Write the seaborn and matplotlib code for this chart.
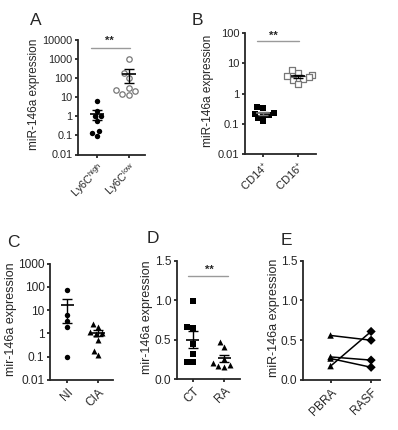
import numpy as np
import pandas as pd
import seaborn as sns
import matplotlib.pyplot as plt
from matplotlib.ticker import NullLocator

# ------------------ DATA ------------------
a_groups = ['Ly6Chigh', 'Ly6Clow']
a_labels = [r'Ly6C$^{\mathrm{high}}$', r'Ly6C$^{\mathrm{low}}$']
a_high = [6.1, 1.8, 1.0, 1.0, 0.55, 0.17, 0.125, 0.094]
a_low = [950, 183, 100, 31, 20, 13.5, 15, 23]
a_ticks = [0.01, 0.1, 1, 10, 100, 1000, 10000]

b_groups = ['CD14+', 'CD16+']
b_labels = [r'CD14$^{+}$', r'CD16$^{+}$']
b_cd14 = [0.32, 0.35, 0.23, 0.19, 0.2, 0.21, 0.12, 0.15]
b_cd16 = [4.8, 5.9, 4.2, 3.4, 3.1, 2.9, 3.8, 2.1]
b_ticks = [0.01, 0.1, 1, 10, 100]

c_groups = ['NI', 'CIA']
c_ni = [70, 6.0, 3.3, 1.8, 0.094]
c_cia = [1.9, 2.6, 0.93, 1.0, 1.1, 0.54, 0.12, 0.18]
c_ticks = [0.01, 0.1, 1, 10, 100, 1000]

d_groups = ['CT', 'RA']
d_ct = [0.99, 0.66, 0.65, 0.44, 0.32, 0.22, 0.22]
d_ra = [0.41, 0.47, 0.25, 0.18, 0.2, 0.15, 0.16]
lin_ticks = [0.0, 0.5, 1.0, 1.5]

e_groups = ['PBRA', 'RASF']
e_pbra = [0.56, 0.175, 0.29, 0.27]
e_rasf = [0.50, 0.61, 0.25, 0.16]

# ------------------ STYLE ------------------
sns.set_style('ticks')
plt.rcParams['font.family'] = ['Liberation Sans', 'DejaVu Sans']
plt.rcParams['mathtext.fontset'] = 'custom'
plt.rcParams['mathtext.rm'] = 'Liberation Sans'
plt.rcParams['mathtext.it'] = 'Liberation Sans:italic'
plt.rcParams['axes.linewidth'] = 1.3
plt.rcParams['xtick.major.width'] = 1.3
plt.rcParams['ytick.major.width'] = 1.3
plt.rcParams['xtick.major.size'] = 2.5
plt.rcParams['ytick.major.size'] = 2.5
plt.rcParams['xtick.major.pad'] = 2
plt.rcParams['ytick.major.pad'] = 1.5

MS = 3.9
W, H = 398, 430
fig = plt.figure(figsize=(W / 100, H / 100), dpi=100)


def box(left, top, right, bottom):
    return [left / W, 1 - bottom / H, (right - left) / W, (bottom - top) / H]


def mean_sem(ax, values, pos, color='black'):
    v = np.asarray(values, dtype=float)
    m = v.mean()
    se = v.std(ddof=1) / np.sqrt(len(v))
    ax.hlines(m, pos - 0.21, pos + 0.21, color=color, lw=1.2, zorder=4)
    ax.errorbar(pos, m, yerr=se, color=color, lw=1.0, capsize=3.4,
                capthick=1.0, fmt='none', zorder=4)


def finish(ax, groups, labels, ticks, log, xlim, ylabel, fs, lfs, pad=1.5):
    sns.despine(ax=ax)
    if log:
        ax.set_yscale('log')
        ax.yaxis.set_minor_locator(NullLocator())
    ax.set_yticks(ticks)
    if log:
        ax.yaxis.set_major_formatter(lambda x, _: f'{x:g}')
    else:
        ax.yaxis.set_major_formatter(lambda x, _: f'{x:.1f}')
    ax.set_ylim(ticks[0], ticks[-1])
    ax.set_xticks(range(len(groups)))
    ax.set_xticklabels(labels, rotation=45, ha='right', rotation_mode='anchor',
                       fontsize=fs)
    ax.tick_params(axis='y', labelsize=fs)
    ax.set_xlim(*xlim)
    ax.set_xlabel('')
    ax.set_ylabel(ylabel, fontsize=lfs, labelpad=pad)
    ax.yaxis.label.set_y(0.52)


def sig(ax, x0, x1, y, tx, ty, fs):
    ax.plot([x0, x1], [y, y], color='#9a9a9a', lw=1.0, clip_on=False)
    ax.text(tx, ty, '**', ha='center', va='center', fontsize=fs,
            fontweight='bold')


# ------------------ PANEL A ------------------
ax = fig.add_axes(box(78, 39.5, 145, 154.5))
ax.set_yscale('log')
df = pd.DataFrame({'g': ['Ly6Chigh'] * len(a_high), 'v': a_high})
sns.swarmplot(data=df, x='g', y='v', order=a_groups, color='black', size=MS,
              linewidth=0, ax=ax)
df = pd.DataFrame({'g': ['Ly6Clow'] * len(a_low), 'v': a_low})
sns.swarmplot(data=df, x='g', y='v', order=a_groups, color='white', size=MS,
              edgecolor='#777777', linewidth=0.9, ax=ax)
mean_sem(ax, a_high, 0)
mean_sem(ax, a_low, 1)
finish(ax, a_groups, a_labels, a_ticks, True, (-0.6, 1.5),
       'miR-146a expression', 7.8, 8.5)
sig(ax, -0.19, 1.03, 3500, 0.38, 9000, 8)

# ------------------ PANEL B ------------------
ax = fig.add_axes(box(245, 33, 316, 154))
ax.set_yscale('log')
df = pd.DataFrame({'g': ['CD14+'] * len(b_cd14), 'v': b_cd14})
sns.swarmplot(data=df, x='g', y='v', order=b_groups, color='black', size=MS,
              marker='s', linewidth=0, ax=ax)
df = pd.DataFrame({'g': ['CD16+'] * len(b_cd16), 'v': b_cd16})
sns.swarmplot(data=df, x='g', y='v', order=b_groups, color='white', size=MS,
              marker='s', edgecolor='#777777', linewidth=0.9, ax=ax)
mean_sem(ax, b_cd14, 0, color='#777777')
mean_sem(ax, b_cd16, 1)
finish(ax, b_groups, b_labels, b_ticks, True, (-0.51, 1.51),
       'miR-146a expression', 8.0, 8.6, pad=3)
sig(ax, -0.17, 1.03, 55, 0.31, 78, 8)

# ------------------ PANEL C ------------------
ax = fig.add_axes(box(50, 263.5, 113, 380))
ax.set_yscale('log')
df = pd.DataFrame({'g': ['NI'] * len(c_ni), 'v': c_ni})
sns.swarmplot(data=df, x='g', y='v', order=c_groups, color='black', size=MS,
              linewidth=0, ax=ax)
df = pd.DataFrame({'g': ['CIA'] * len(c_cia), 'v': c_cia})
sns.swarmplot(data=df, x='g', y='v', order=c_groups, color='black',
              size=MS + 0.4, marker='^', linewidth=0, ax=ax)
mean_sem(ax, c_ni, 0)
mean_sem(ax, c_cia, 1)
finish(ax, c_groups, c_groups, c_ticks, True, (-0.55, 1.48),
       'mir-146a expression', 8.6, 9, pad=0.5)

# ------------------ PANEL D ------------------
ax = fig.add_axes(box(177, 260.7, 240, 379))
df = pd.DataFrame({'g': ['CT'] * len(d_ct), 'v': d_ct})
sns.swarmplot(data=df, x='g', y='v', order=d_groups, color='black', size=MS,
              marker='s', linewidth=0, ax=ax)
df = pd.DataFrame({'g': ['RA'] * len(d_ra), 'v': d_ra})
sns.swarmplot(data=df, x='g', y='v', order=d_groups, color='black',
              size=MS + 0.4, marker='^', linewidth=0, ax=ax)
mean_sem(ax, d_ct, 0)
mean_sem(ax, d_ra, 1)
finish(ax, d_groups, d_groups, lin_ticks, False, (-0.5, 1.5),
       'mir-146a expression', 8.6, 9)
sig(ax, -0.15, 1.12, 1.31, 0.52, 1.39, 8)

# ------------------ PANEL E ------------------
ax = fig.add_axes(box(303, 260.7, 380, 380))
pairs = pd.DataFrame({
    'pair': list(range(len(e_pbra))) * 2,
    'pos': [0] * len(e_pbra) + [1] * len(e_rasf),
    'group': ['PBRA'] * len(e_pbra) + ['RASF'] * len(e_rasf),
    'v': e_pbra + e_rasf,
})
sns.lineplot(data=pairs, x='pos', y='v', units='pair', estimator=None,
             color='black', lw=1.1, ax=ax)
sns.scatterplot(data=pairs, x='pos', y='v', style='group',
                markers={'PBRA': '^', 'RASF': 'D'}, color='black', s=22,
                linewidth=0, legend=False, ax=ax, zorder=3)
finish(ax, e_groups, e_groups, lin_ticks, False, (-0.68, 1.22),
       'miR-146a expression', 8.6, 9, pad=0.5)

# ------------------ PANEL LETTERS ------------------
for letter, (x, y) in zip('ABCDE', [(30, 25), (192, 25), (7, 247),
                                     (147, 243), (281, 245)]):
    fig.text(x / W, 1 - y / H, letter, fontsize=12.5, va='baseline',
             ha='left')

fig.savefig('out.png', dpi=100)
